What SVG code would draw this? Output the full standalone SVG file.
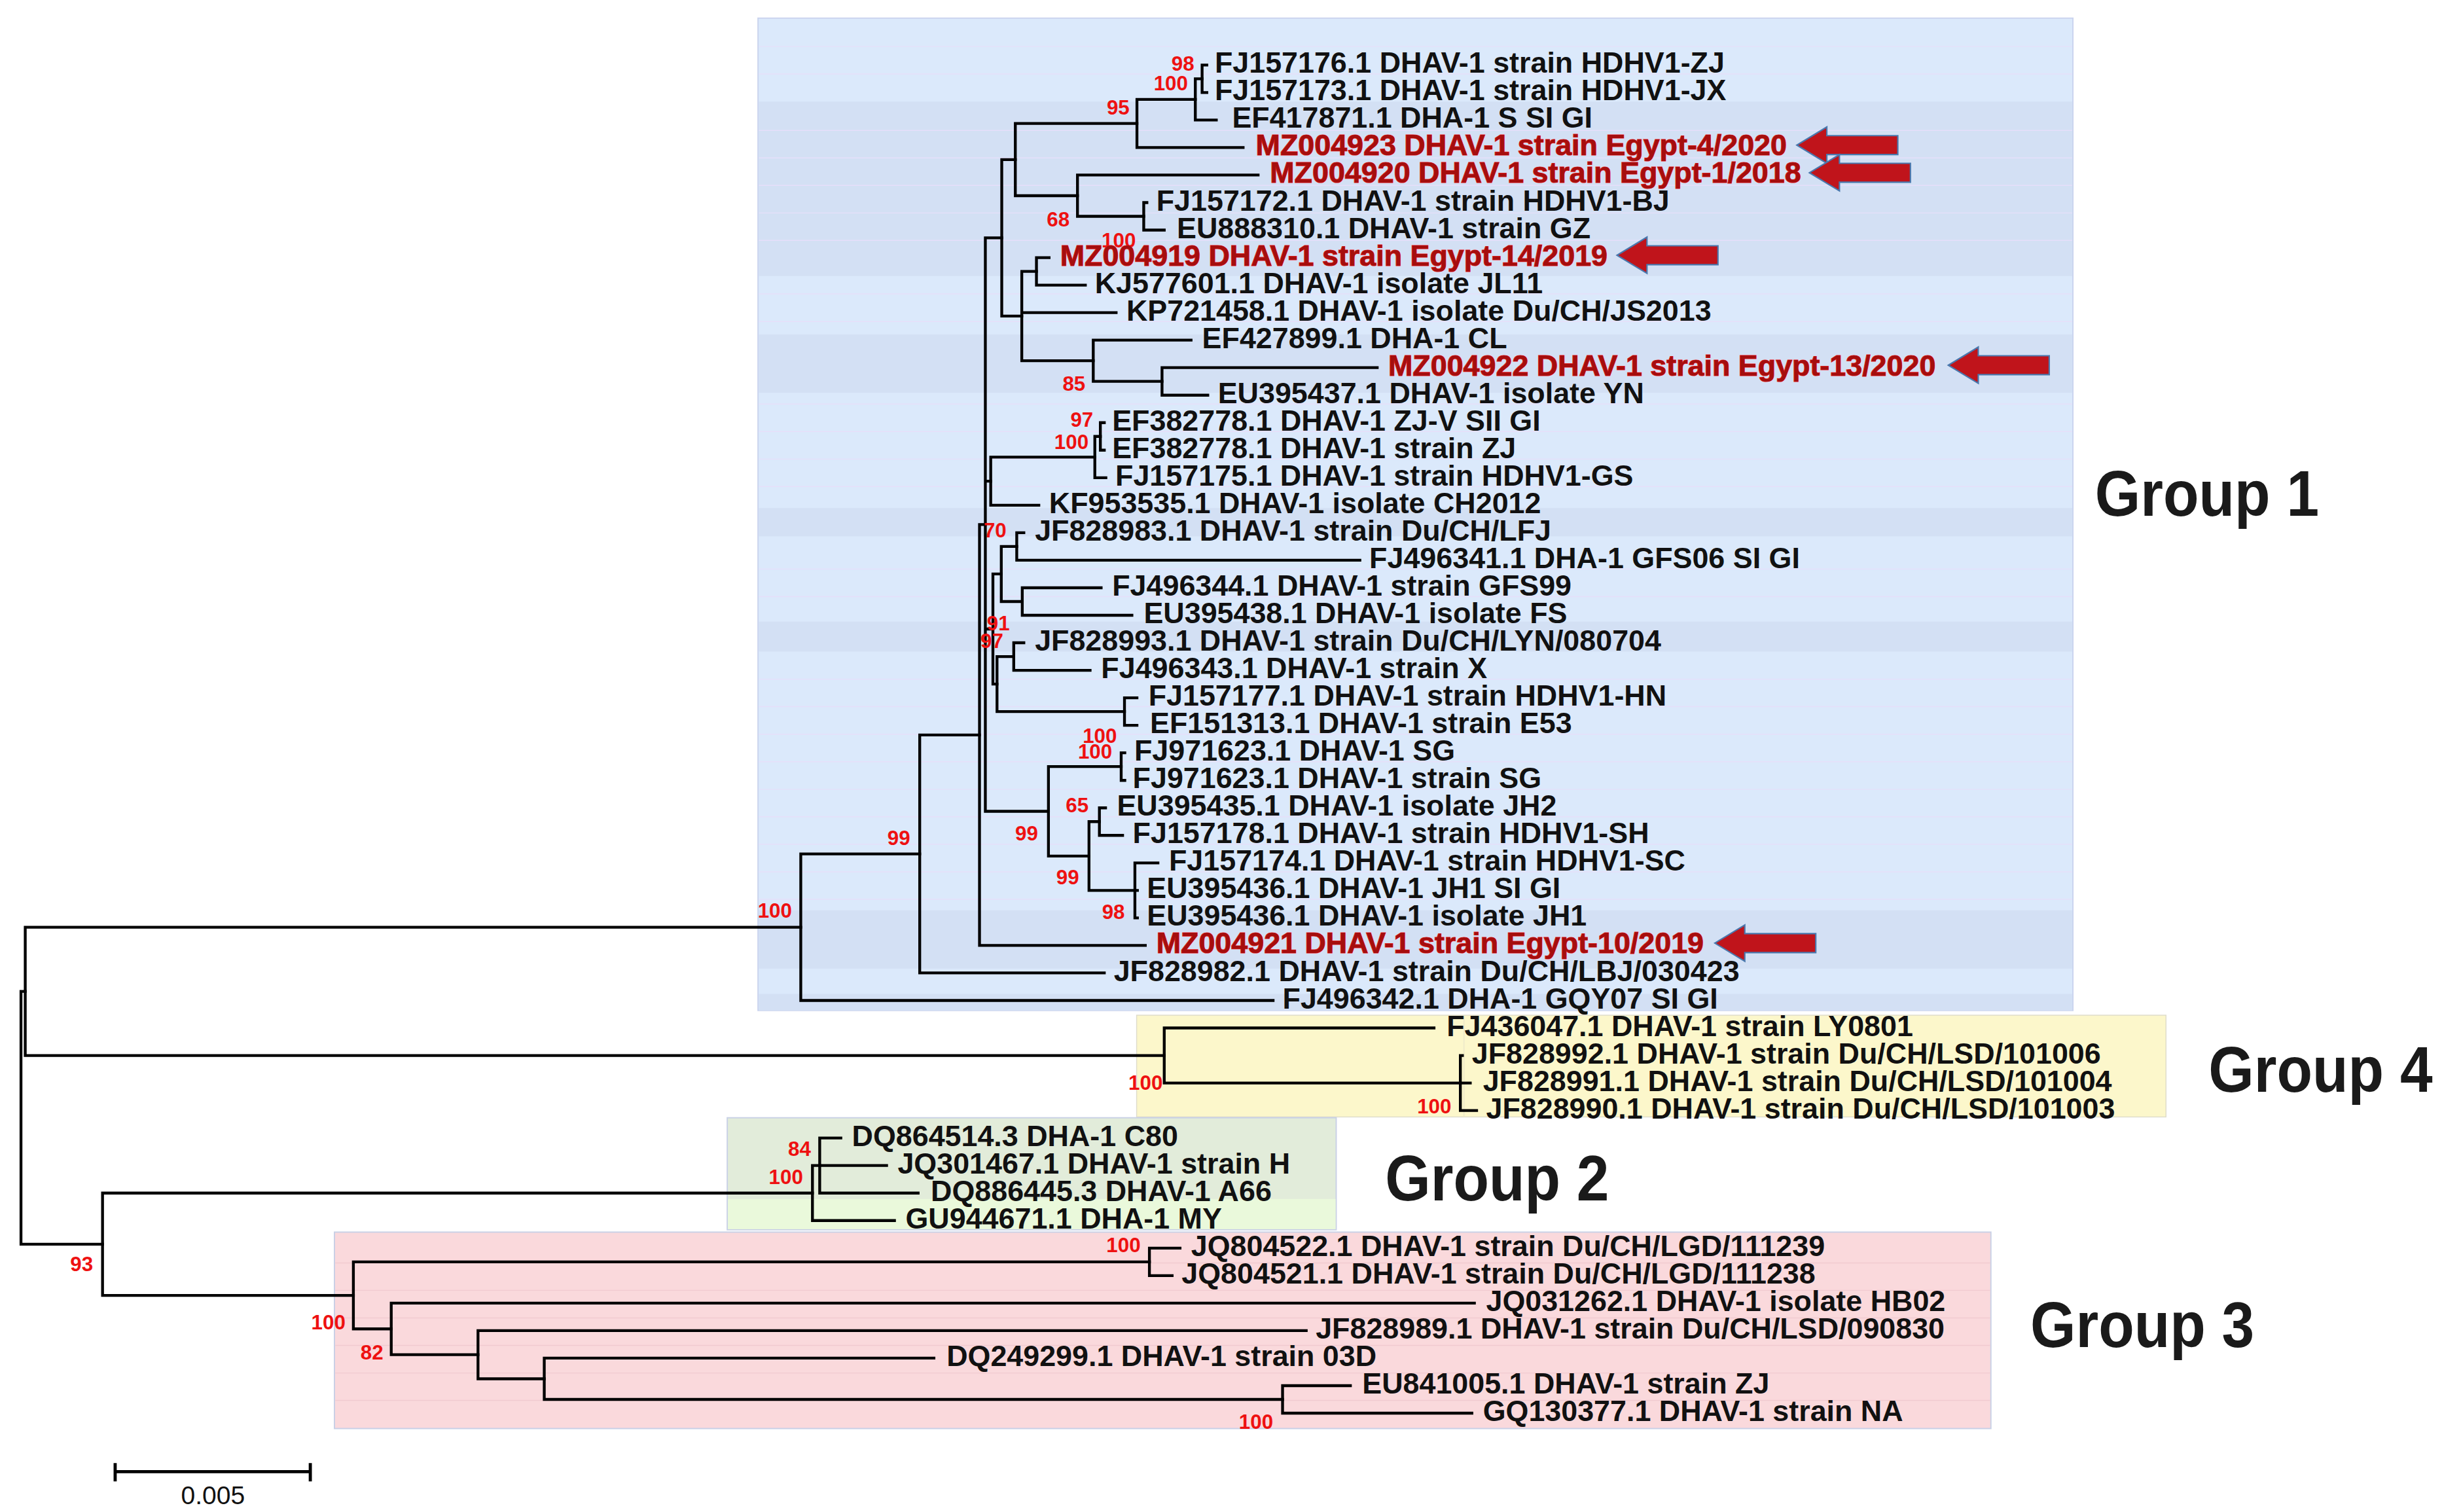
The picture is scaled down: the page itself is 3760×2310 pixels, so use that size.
<svg xmlns="http://www.w3.org/2000/svg" width="3760" height="2310" viewBox="0 0 3760 2310">
<style>
.t{font-family:"Liberation Sans",Arial,sans-serif;font-weight:bold;font-size:18.6px;fill:#111}
.r{fill:#a50e0e;stroke:#f0201c;stroke-width:0.5px;paint-order:stroke}
.b{font-family:"Liberation Sans",Arial,sans-serif;font-weight:bold;font-size:13px;fill:#ee1111;text-anchor:end}
.g{font-family:"Liberation Sans",Arial,sans-serif;font-weight:bold;font-size:41px;fill:#1a1a1a}
.s{font-family:"Liberation Sans",Arial,sans-serif;font-size:16.2px;fill:#111;text-anchor:middle}
.e{fill:none;stroke:#000;stroke-width:1.8;stroke-linecap:square}
.a{fill:#c0141b;stroke:#4a78ad;stroke-width:0.9}
.rl{stroke:#e6dffa;stroke-width:0.6}
.pl{stroke:#f1cbd0;stroke-width:0.6}
</style>
<defs>
<path id="arw" d="M0 0 L19 -11.5 L19 -6 L64 -6 L64 6 L19 6 L19 11.5 Z"/>
</defs>
<rect width="3760" height="2310" fill="#ffffff"/>
<g transform="scale(2.410256)">
<g id="backgrounds">
<g id="group1-box">
<rect x="480.5" y="11.5" width="833.5" height="629" fill="#dbe9fb" stroke="#cad3ee" stroke-width="0.8"/>
<rect x="481" y="64.4" width="832.5" height="110.6" fill="#d3e0f4"/>
<rect x="481" y="212" width="832.5" height="37" fill="#d3e0f4"/>
<rect x="481" y="322" width="832.5" height="18" fill="#d3e0f4"/>
<rect x="481" y="394" width="832.5" height="19" fill="#d3e0f4"/>
<rect x="481" y="577" width="832.5" height="37" fill="#d3e0f4"/>
<rect x="481" y="630" width="832.5" height="10.5" fill="#d3e0f4"/>
<path class="rl" d="M481 29.5H1313.5M481 46.9H1313.5M481 82.7H1313.5M481 100.1H1313.5M481 117.5H1313.5M481 135H1313.5M481 152.4H1313.5M481 186.3H1313.5M481 203.8H1313.5M481 256.1H1313.5M481 273.5H1313.5M481 291H1313.5M481 308.4H1313.5M481 360.7H1313.5M481 378.2H1313.5M481 430.5H1313.5M481 447.9H1313.5M481 465.4H1313.5M481 482.8H1313.5M481 500.3H1313.5M481 517.7H1313.5M481 535.1H1313.5M481 552.6H1313.5M481 570H1313.5"/>
</g>
<g id="group4-box">
<rect x="720.5" y="643.5" width="652.5" height="64.5" fill="#fcf7cb" stroke="#dedccb" stroke-width="0.6"/>
<path d="M928 644V708" stroke="#efeacb" stroke-width="0.8"/>
</g>
<g id="group2-box">
<rect x="461" y="708.5" width="386" height="71" fill="#e2ecda" stroke="#c9d1e6" stroke-width="0.8"/>
<rect x="461.4" y="760" width="385.2" height="19.1" fill="#eaf9db"/>
</g>
<g id="group3-box">
<rect x="212" y="781" width="1050" height="124.5" fill="#fad9dc" stroke="#c8d0e6" stroke-width="0.8"/>
<path class="pl" d="M212.5 800.5H1261.5M212.5 817.9H1261.5M212.5 835.4H1261.5M212.5 852.8H1261.5M212.5 870.3H1261.5M212.5 887.7H1261.5"/>
</g>
</g>
<g id="connectors" class="e">
<path d="M762 41.2V58.64M762 41.2H765M762 58.64H765"/>
<path d="M757.7 49.92V76.08M757.7 49.92H762M757.7 76.08H771"/>
<path d="M720.7 63V93.52M720.7 63H757.7M720.7 93.52H788"/>
<path d="M725 128.4V145.84M725 128.4H727M725 145.84H738"/>
<path d="M683 110.96V137.12M683 110.96H797.5M683 137.12H725"/>
<path d="M643.6 78.26V124.04M643.6 78.26H720.7M643.6 124.04H683"/>
<path d="M657 163.28V180.72M657 163.28H665M657 180.72H688"/>
<path d="M736.6 233.04V250.48M736.6 233.04H873M736.6 250.48H765.6"/>
<path d="M693 215.6V241.76M693 215.6H755M693 241.76H736.6"/>
<path d="M647.7 172V228.68M647.7 172H657M647.7 198.16H707.5M647.7 228.68H693"/>
<path d="M635 101.15V200.34M635 101.15H643.6M635 200.34H647.7"/>
<path d="M697.5 267.92V285.36M697.5 267.92H700M697.5 285.36H700"/>
<path d="M694 276.64V302.8M694 276.64H697.5M694 302.8H701"/>
<path d="M628 289.72V320.24M628 289.72H694M628 320.24H658.5"/>
<path d="M644.5 337.68V355.12M644.5 337.68H649M644.5 355.12H862"/>
<path d="M648 372.56V390M648 372.56H698M648 390H717.5"/>
<path d="M634.7 346.4V381.28M634.7 346.4H644.5M634.7 381.28H648"/>
<path d="M642.6 407.44V424.88M642.6 407.44H649M642.6 424.88H691"/>
<path d="M712.8 442.32V459.76M712.8 442.32H720.7M712.8 459.76H720.7"/>
<path d="M632 416.16V451.04M632 416.16H642.6M632 451.04H712.8"/>
<path d="M629.4 363.84V433.6M629.4 363.84H634.7M629.4 433.6H632"/>
<path d="M710.7 477.2V494.64M710.7 477.2H713M710.7 494.64H713"/>
<path d="M696.9 512.08V529.52M696.9 512.08H700.8M696.9 529.52H711.6"/>
<path d="M719.4 546.96V581.84M719.4 546.96H734M719.4 564.4H721M719.4 581.84H721"/>
<path d="M690.3 520.8V564.4M690.3 520.8H696.9M690.3 564.4H719.4"/>
<path d="M664.6 485.92V542.6M664.6 485.92H710.7M664.6 542.6H690.3"/>
<path d="M624.6 150.75V514.26M624.6 150.75H635M624.6 304.98H628M624.6 398.72H629.4M624.6 514.26H664.6"/>
<path d="M620.9 332.5V599.28M620.9 332.5H624.6M620.9 599.28H726"/>
<path d="M583 465.89V616.72M583 465.89H620.9M583 616.72H700"/>
<path d="M507.6 541.3V634.16M507.6 541.3H583M507.6 634.16H807"/>
<path d="M925.7 669.04V703.92M925.7 669.04H927M925.7 686.48H932M925.7 703.92H936"/>
<path d="M738 651.6V686.48M738 651.6H909M738 686.48H925.7"/>
<path d="M16 587.73V669.04M16 587.73H507.6M16 669.04H738"/>
<path d="M13.3 628.39V788.67M13.3 628.39H16M13.3 788.67H65"/>
<path d="M519.6 721.36V756.24M519.6 721.36H533M519.6 738.8H562M519.6 756.24H582"/>
<path d="M515 738.8V773.68M515 738.8H519.6M515 773.68H567"/>
<path d="M65 756.24V821.1M65 756.24H515M65 821.1H224"/>
<path d="M728.6 791.12V808.56M728.6 791.12H748M728.6 808.56H743"/>
<path d="M813 878.32V895.76M813 878.32H856M813 895.76H933"/>
<path d="M345 860.88V887.04M345 860.88H592M345 887.04H813"/>
<path d="M303 843.44V873.96M303 843.44H828M303 873.96H345"/>
<path d="M248 826V858.7M248 826H934.6M248 858.7H303"/>
<path d="M224 799.84V842.35M224 799.84H728.6M224 842.35H248"/>
</g>
<g id="bootstrap" class="b">
<text x="757" y="44.7">98</text>
<text x="753" y="57.2">100</text>
<text x="716" y="72.7">95</text>
<text x="678" y="143.7">68</text>
<text x="720" y="156.7">100</text>
<text x="688" y="247.7">85</text>
<text x="693" y="270.7">97</text>
<text x="690" y="284.7">100</text>
<text x="638" y="340.7">70</text>
<text x="640" y="399.7">91</text>
<text x="636" y="410.7">97</text>
<text x="708" y="470.7">100</text>
<text x="705" y="480.7">100</text>
<text x="690" y="514.7">65</text>
<text x="658" y="532.7">99</text>
<text x="684" y="560.7">99</text>
<text x="713" y="582.7">98</text>
<text x="577" y="535.7">99</text>
<text x="502" y="581.7">100</text>
<text x="737" y="690.7">100</text>
<text x="920" y="705.7">100</text>
<text x="514" y="732.7">84</text>
<text x="509" y="750.7">100</text>
<text x="59" y="805.7">93</text>
<text x="723" y="793.7">100</text>
<text x="219" y="842.7">100</text>
<text x="243" y="861.7">82</text>
<text x="807" y="905.7">100</text>
</g>
<g id="leaf-FJ157176"><text class="t" x="770" y="46.2">FJ157176.1 DHAV-1 strain HDHV1-ZJ</text></g>
<g id="leaf-FJ157173"><text class="t" x="770" y="63.64">FJ157173.1 DHAV-1 strain HDHV1-JX</text></g>
<g id="leaf-EF417871"><text class="t" x="781" y="81.08">EF417871.1 DHA-1 S SI GI</text></g>
<g id="leaf-MZ004923"><text class="t r" x="796" y="98.52">MZ004923 DHAV-1 strain Egypt-4/2020</text></g>
<g id="leaf-MZ004920"><text class="t r" x="805" y="115.96">MZ004920 DHAV-1 strain Egypt-1/2018</text></g>
<g id="leaf-FJ157172"><text class="t" x="733" y="133.4">FJ157172.1 DHAV-1 strain HDHV1-BJ</text></g>
<g id="leaf-EU888310"><text class="t" x="746" y="150.84">EU888310.1 DHAV-1 strain GZ</text></g>
<g id="leaf-MZ004919"><text class="t r" x="672" y="168.28">MZ004919 DHAV-1 strain Egypt-14/2019</text></g>
<g id="leaf-KJ577601"><text class="t" x="694" y="185.72">KJ577601.1 DHAV-1 isolate JL11</text></g>
<g id="leaf-KP721458"><text class="t" x="714" y="203.16">KP721458.1 DHAV-1 isolate Du/CH/JS2013</text></g>
<g id="leaf-EF427899"><text class="t" x="762" y="220.6">EF427899.1 DHA-1 CL</text></g>
<g id="leaf-MZ004922"><text class="t r" x="880" y="238.04">MZ004922 DHAV-1 strain Egypt-13/2020</text></g>
<g id="leaf-EU395437"><text class="t" x="772" y="255.48">EU395437.1 DHAV-1 isolate YN</text></g>
<g id="leaf-EF382778a"><text class="t" x="705" y="272.92">EF382778.1 DHAV-1 ZJ-V SII GI</text></g>
<g id="leaf-EF382778b"><text class="t" x="705" y="290.36">EF382778.1 DHAV-1 strain ZJ</text></g>
<g id="leaf-FJ157175"><text class="t" x="707" y="307.8">FJ157175.1 DHAV-1 strain HDHV1-GS</text></g>
<g id="leaf-KF953535"><text class="t" x="665" y="325.24">KF953535.1 DHAV-1 isolate CH2012</text></g>
<g id="leaf-JF828983"><text class="t" x="656" y="342.68">JF828983.1 DHAV-1 strain Du/CH/LFJ</text></g>
<g id="leaf-FJ496341"><text class="t" x="868" y="360.12">FJ496341.1 DHA-1 GFS06 SI GI</text></g>
<g id="leaf-FJ496344"><text class="t" x="705" y="377.56">FJ496344.1 DHAV-1 strain GFS99</text></g>
<g id="leaf-EU395438"><text class="t" x="725" y="395">EU395438.1 DHAV-1 isolate FS</text></g>
<g id="leaf-JF828993"><text class="t" x="656" y="412.44">JF828993.1 DHAV-1 strain Du/CH/LYN/080704</text></g>
<g id="leaf-FJ496343"><text class="t" x="698" y="429.88">FJ496343.1 DHAV-1 strain X</text></g>
<g id="leaf-FJ157177"><text class="t" x="728" y="447.32">FJ157177.1 DHAV-1 strain HDHV1-HN</text></g>
<g id="leaf-EF151313"><text class="t" x="729" y="464.76">EF151313.1 DHAV-1 strain E53</text></g>
<g id="leaf-FJ971623a"><text class="t" x="719" y="482.2">FJ971623.1 DHAV-1 SG</text></g>
<g id="leaf-FJ971623b"><text class="t" x="718" y="499.64">FJ971623.1 DHAV-1 strain SG</text></g>
<g id="leaf-EU395435"><text class="t" x="708" y="517.08">EU395435.1 DHAV-1 isolate JH2</text></g>
<g id="leaf-FJ157178"><text class="t" x="718" y="534.52">FJ157178.1 DHAV-1 strain HDHV1-SH</text></g>
<g id="leaf-FJ157174"><text class="t" x="741" y="551.96">FJ157174.1 DHAV-1 strain HDHV1-SC</text></g>
<g id="leaf-EU395436a"><text class="t" x="727" y="569.4">EU395436.1 DHAV-1 JH1 SI GI</text></g>
<g id="leaf-EU395436b"><text class="t" x="727" y="586.84">EU395436.1 DHAV-1 isolate JH1</text></g>
<g id="leaf-MZ004921"><text class="t r" x="733" y="604.28">MZ004921 DHAV-1 strain Egypt-10/2019</text></g>
<g id="leaf-JF828982"><text class="t" x="706" y="621.72">JF828982.1 DHAV-1 strain Du/CH/LBJ/030423</text></g>
<g id="leaf-FJ496342"><text class="t" x="813" y="639.16">FJ496342.1 DHA-1 GQY07 SI GI</text></g>
<g id="leaf-FJ436047"><text class="t" x="917" y="656.6">FJ436047.1 DHAV-1 strain LY0801</text></g>
<g id="leaf-JF828992"><text class="t" x="933" y="674.04">JF828992.1 DHAV-1 strain Du/CH/LSD/101006</text></g>
<g id="leaf-JF828991"><text class="t" x="940" y="691.48">JF828991.1 DHAV-1 strain Du/CH/LSD/101004</text></g>
<g id="leaf-JF828990"><text class="t" x="942" y="708.92">JF828990.1 DHAV-1 strain Du/CH/LSD/101003</text></g>
<g id="leaf-DQ864514"><text class="t" x="540" y="726.36">DQ864514.3 DHA-1 C80</text></g>
<g id="leaf-JQ301467"><text class="t" x="569" y="743.8">JQ301467.1 DHAV-1 strain H</text></g>
<g id="leaf-DQ886445"><text class="t" x="590" y="761.24">DQ886445.3 DHAV-1 A66</text></g>
<g id="leaf-GU944671"><text class="t" x="574" y="778.68">GU944671.1 DHA-1 MY</text></g>
<g id="leaf-JQ804522"><text class="t" x="755" y="796.12">JQ804522.1 DHAV-1 strain Du/CH/LGD/111239</text></g>
<g id="leaf-JQ804521"><text class="t" x="749" y="813.56">JQ804521.1 DHAV-1 strain Du/CH/LGD/111238</text></g>
<g id="leaf-JQ031262"><text class="t" x="942" y="831">JQ031262.1 DHAV-1 isolate HB02</text></g>
<g id="leaf-JF828989"><text class="t" x="834" y="848.44">JF828989.1 DHAV-1 strain Du/CH/LSD/090830</text></g>
<g id="leaf-DQ249299"><text class="t" x="600" y="865.88">DQ249299.1 DHAV-1 strain 03D</text></g>
<g id="leaf-EU841005"><text class="t" x="863.5" y="883.32">EU841005.1 DHAV-1 strain ZJ</text></g>
<g id="leaf-GQ130377"><text class="t" x="940" y="900.76">GQ130377.1 DHAV-1 strain NA</text></g>
<g id="arrows" class="a">
<use href="#arw" x="1139" y="92"/>
<use href="#arw" x="1147" y="109.5"/>
<use href="#arw" x="1025" y="161.8"/>
<use href="#arw" x="1235" y="231.5"/>
<use href="#arw" x="1087" y="597.8"/>
</g>
<g id="group-labels">
<g id="label-group1"><text class="g" x="1328" y="327" textLength="142" lengthAdjust="spacingAndGlyphs">Group 1</text></g>
<g id="label-group4"><text class="g" x="1400" y="692" textLength="142" lengthAdjust="spacingAndGlyphs">Group 4</text></g>
<g id="label-group2"><text class="g" x="878" y="761" textLength="142" lengthAdjust="spacingAndGlyphs">Group 2</text></g>
<g id="label-group3"><text class="g" x="1287" y="854" textLength="142" lengthAdjust="spacingAndGlyphs">Group 3</text></g>
</g>
<g id="scale-bar">
<path d="M73 932.8H196.7M73 927.4V939M196.7 927.4V939" fill="none" stroke="#000" stroke-width="2"/>
<text class="s" x="135" y="953.5">0.005</text>
</g>
</g>
</svg>
